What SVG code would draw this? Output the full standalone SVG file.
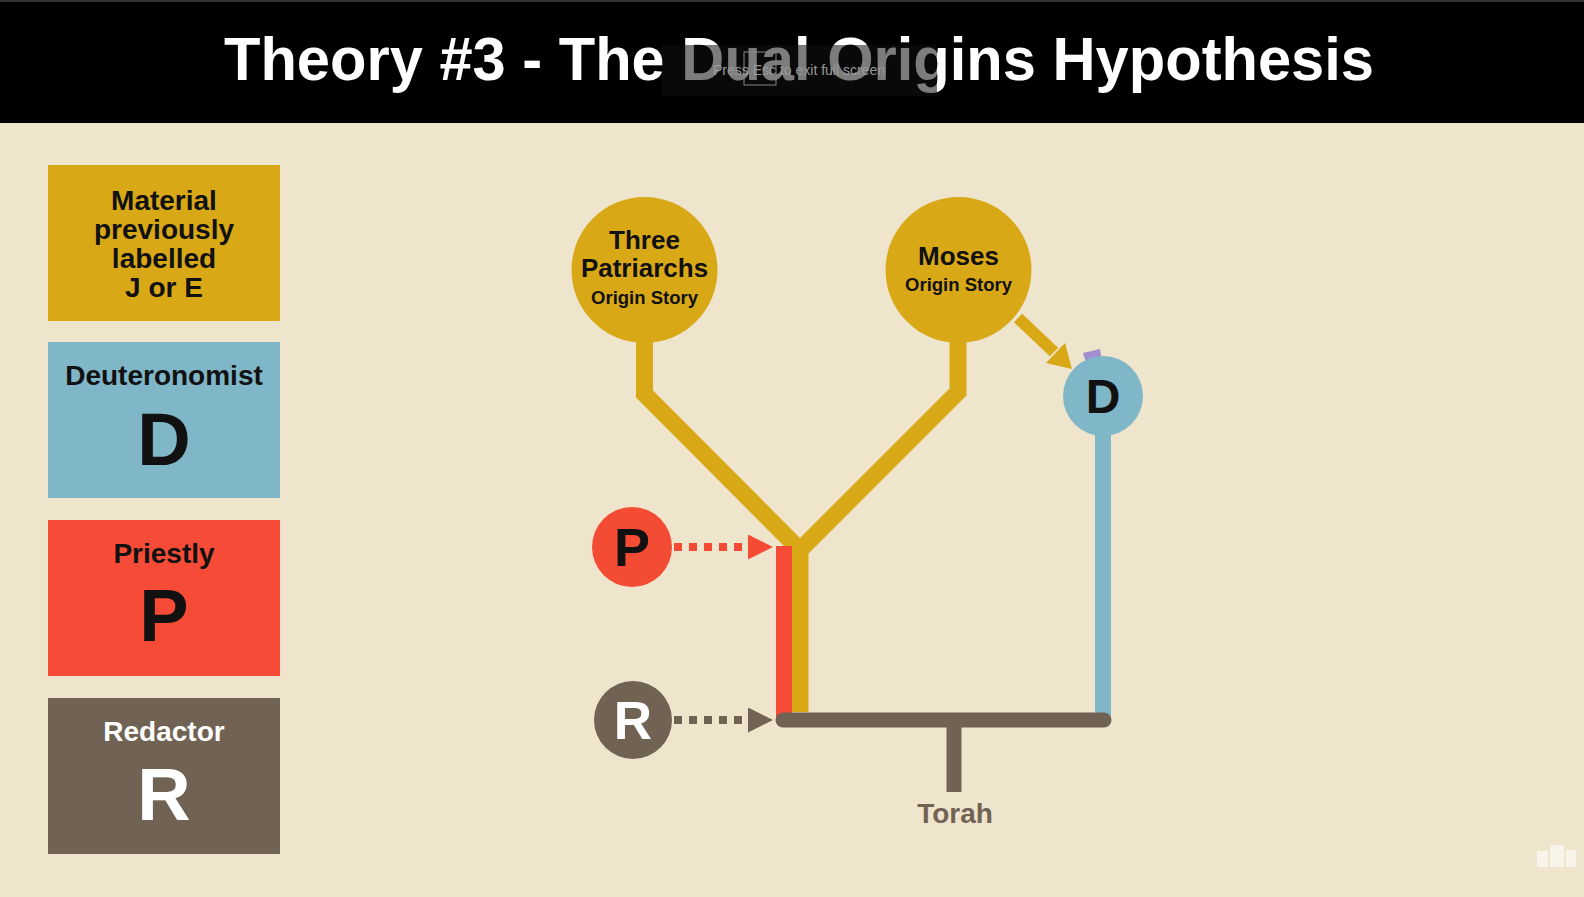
<svg xmlns="http://www.w3.org/2000/svg" width="1584" height="897" viewBox="0 0 1584 897">
<style>
text{font-family:"Liberation Sans",Arial,sans-serif;font-weight:bold;text-anchor:middle}
.lbl{font-size:28px;fill:#111}
.big{font-size:74px;fill:#111}
.circ{font-size:26px;fill:#111}
.sub{font-size:18.5px;fill:#111}
.yl{fill:none;stroke:#D9A816;stroke-width:17;stroke-linejoin:miter}
</style>
<defs>
<marker id="ahP" viewBox="0 0 10 10" refX="0" refY="5" markerWidth="25" markerHeight="25" markerUnits="userSpaceOnUse" orient="auto"><path d="M0,0 L10,5 L0,10 Z" fill="#F44B35"/></marker>
<marker id="ahR" viewBox="0 0 10 10" refX="0" refY="5" markerWidth="25" markerHeight="25" markerUnits="userSpaceOnUse" orient="auto"><path d="M0,0 L10,5 L0,10 Z" fill="#716354"/></marker>
</defs>
<rect width="1584" height="897" fill="#EEE5CC"/>
<g id="header">
<rect x="0" y="0" width="1584" height="123" fill="#000"/>
<rect x="0" y="0" width="1584" height="2" fill="#333"/>
<text x="799" y="80" textLength="1150" lengthAdjust="spacingAndGlyphs" style="font-size:61px;fill:#fff">Theory #3 - The Dual Origins Hypothesis</text>
<rect x="662" y="45" width="275" height="51" fill="#111" opacity="0.55"/>
<rect x="744" y="52" width="32" height="33" fill="none" stroke="#888" stroke-width="1"/>
<text x="799" y="75" style="font-size:14px;font-weight:normal;fill:#9a9a9a">Press  Esc  to exit full screen</text>
</g>
<g id="legend-je">
<rect x="48" y="165" width="232" height="156" fill="#D9A816"/>
<text class="lbl" x="164" y="210">Material</text>
<text class="lbl" x="164" y="239">previously</text>
<text class="lbl" x="164" y="268">labelled</text>
<text class="lbl" x="164" y="297">J or E</text>
</g>
<g id="legend-d">
<rect x="48" y="342" width="232" height="156" fill="#7FB6C8"/>
<text class="lbl" x="164" y="385">Deuteronomist</text>
<text class="big" x="164" y="465">D</text>
</g>
<g id="legend-p">
<rect x="48" y="520" width="232" height="156" fill="#F64B36"/>
<text class="lbl" x="164" y="563">Priestly</text>
<text class="big" x="164" y="641">P</text>
</g>
<g id="legend-r">
<rect x="48" y="698" width="232" height="156" fill="#716354"/>
<text class="lbl" x="164" y="741" style="fill:#fff">Redactor</text>
<text class="big" x="164" y="820" style="fill:#fff">R</text>
</g>
<g id="connectors">
<path class="yl" d="M644.5,340 V394 L800,550 V712"/>
<path class="yl" d="M958,340 V392 L800,550"/>
<rect x="776" y="546" width="16" height="174" fill="#F64B36"/>
<line x1="1103" y1="430" x2="1103" y2="720" stroke="#7FB6C8" stroke-width="16"/>
<line x1="783" y1="720" x2="1104" y2="720" stroke="#716354" stroke-width="15" stroke-linecap="round"/>
<line x1="954" y1="720" x2="954" y2="792" stroke="#716354" stroke-width="15"/>
<line x1="674" y1="547" x2="748" y2="547" stroke="#F44B35" stroke-width="8" stroke-dasharray="8 7" marker-end="url(#ahP)"/>
<line x1="674" y1="720" x2="748" y2="720" stroke="#716354" stroke-width="8" stroke-dasharray="8 7" marker-end="url(#ahR)"/>
<line x1="1018" y1="318" x2="1054" y2="352" stroke="#D9A816" stroke-width="12"/>
<path d="M1072,369 L1046,363 L1065,343 Z" fill="#D9A816"/>
<path d="M1083,353 L1100,349 L1102,361 L1086,363 Z" fill="#A58ED0"/>
</g>
<g id="node-patriarchs">
<circle cx="644.5" cy="270" r="73" fill="#D9A816"/>
<text class="circ" x="644.5" y="249">Three</text>
<text class="circ" x="644.5" y="277">Patriarchs</text>
<text class="sub" x="644.5" y="304">Origin Story</text>
</g>
<g id="node-moses">
<circle cx="958.5" cy="270" r="73" fill="#D9A816"/>
<text class="circ" x="958.5" y="265">Moses</text>
<text class="sub" x="958.5" y="291">Origin Story</text>
</g>
<g id="node-d">
<circle cx="1103" cy="396" r="40" fill="#7FB6C8"/>
<text x="1103" y="413" style="font-size:48px;fill:#111">D</text>
</g>
<g id="node-p">
<circle cx="632" cy="547" r="40" fill="#F44B35"/>
<text x="632" y="566" style="font-size:54px;fill:#111">P</text>
</g>
<g id="node-r">
<circle cx="633" cy="720" r="39" fill="#716354"/>
<text x="633" y="739" style="font-size:53px;fill:#fff">R</text>
</g>
<g id="node-torah">
<text x="955" y="823" style="font-size:28px;fill:#716354">Torah</text>
</g>
<g id="corner-icon" fill="#F8F4EA">
<rect x="1537" y="851" width="11" height="16"/>
<rect x="1550" y="845" width="14" height="22"/>
<rect x="1566" y="850" width="10" height="17"/>
</g>
</svg>
